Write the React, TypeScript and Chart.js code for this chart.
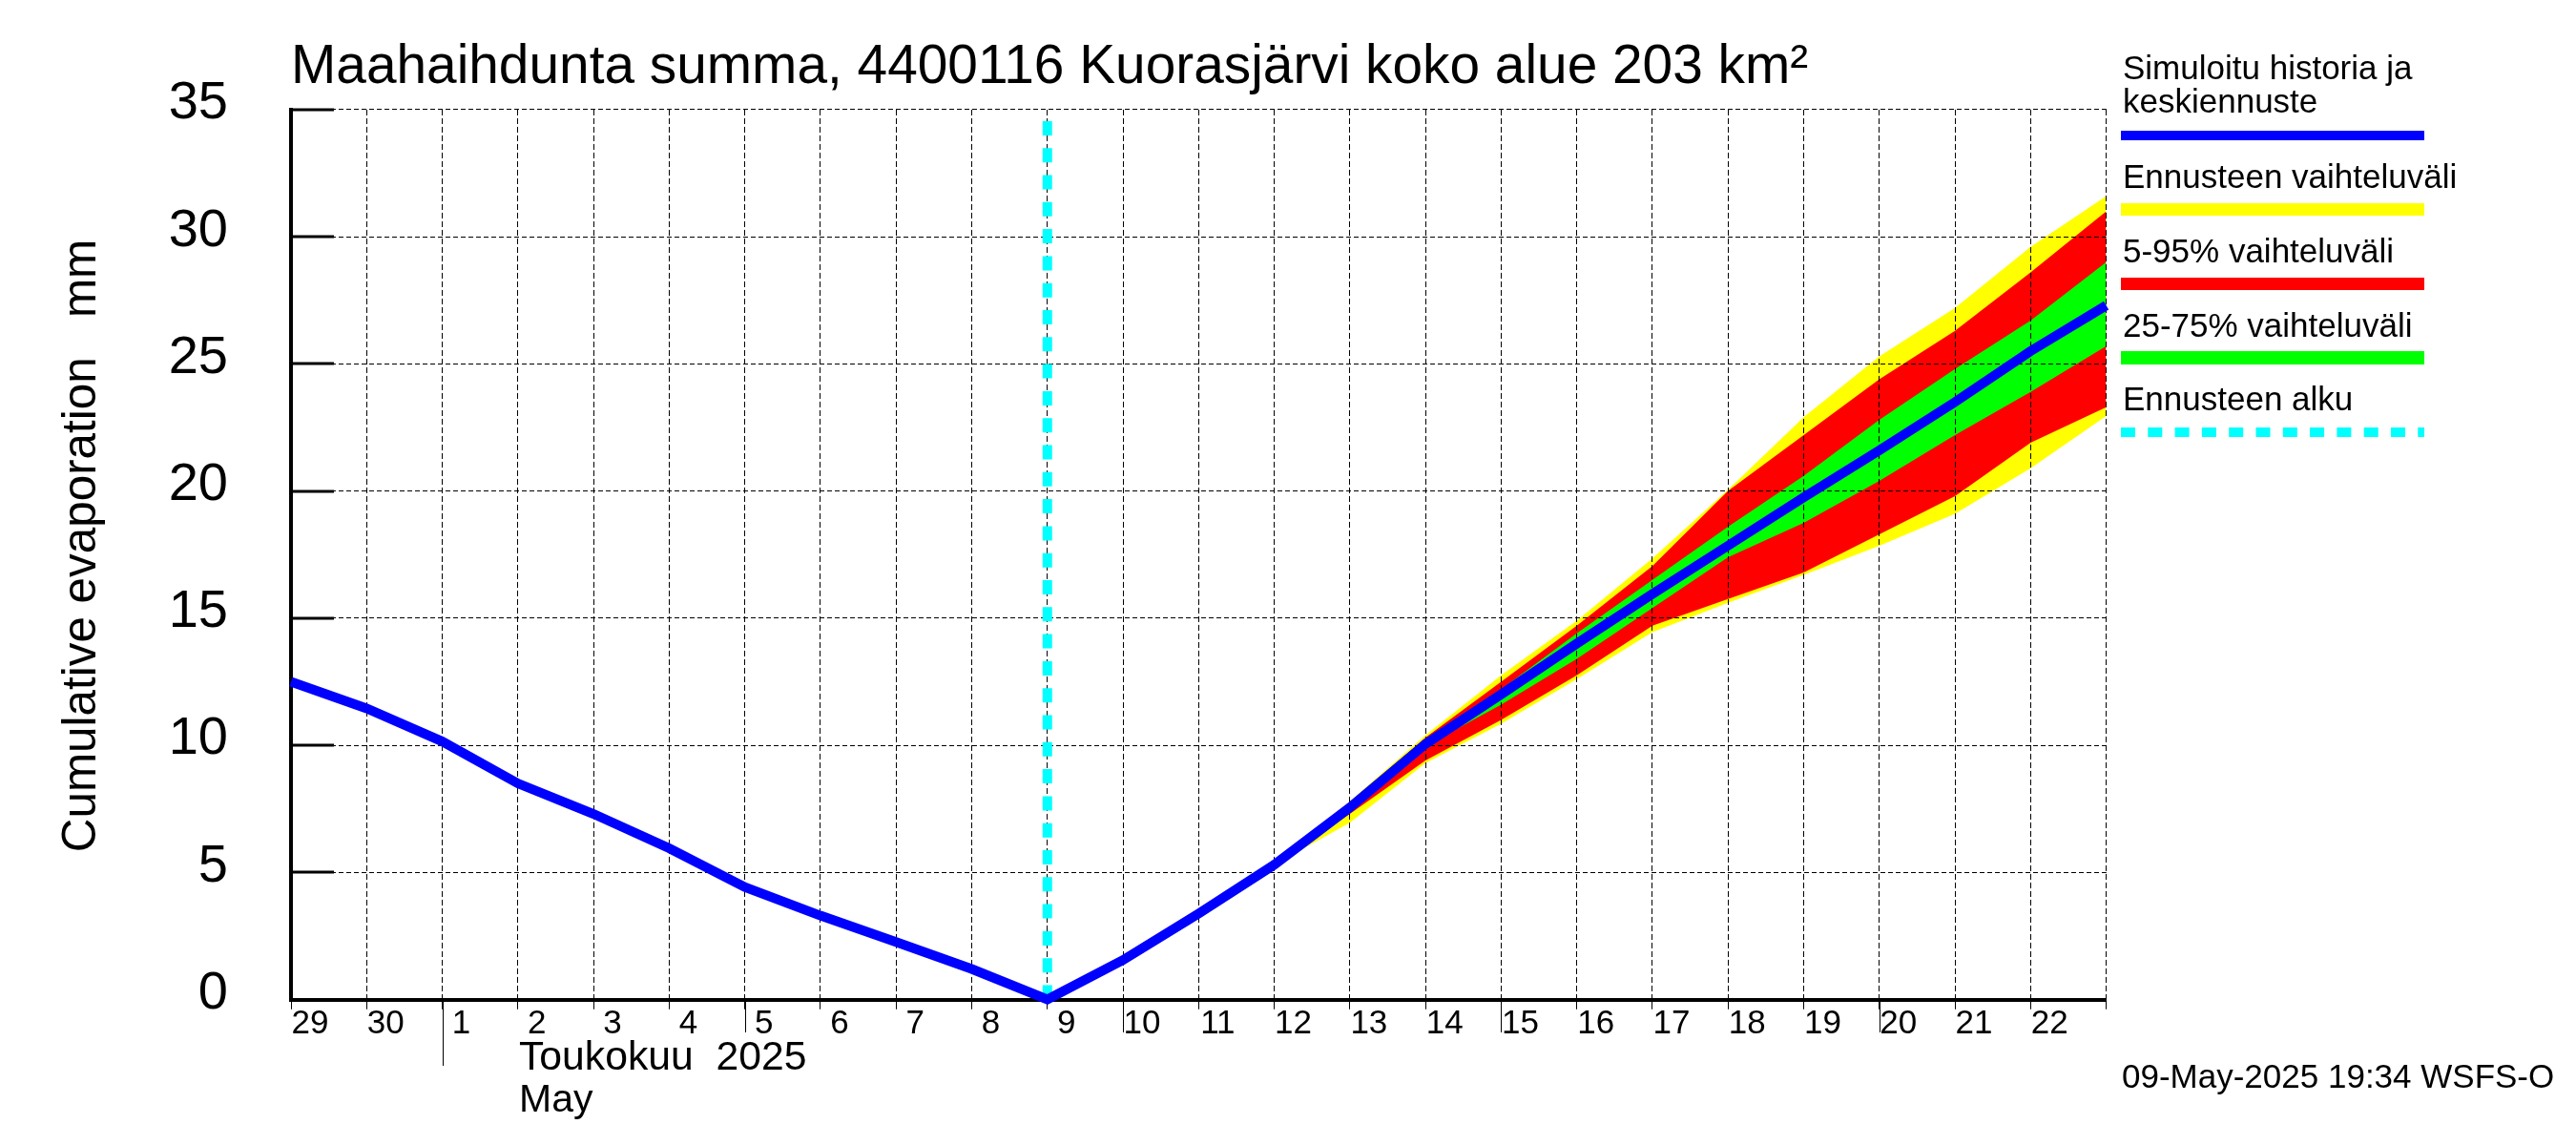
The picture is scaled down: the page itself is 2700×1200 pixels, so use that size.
import { useEffect, useRef } from 'react';
import { Chart, registerables } from 'chart.js';

Chart.register(...registerables);

const dayLabels = ['29', '30', '1', '2', '3', '4', '5', '6', '7', '8', '9', '10', '11', '12', '13', '14', '15', '16', '17', '18', '19', '20', '21', '22'];
const yTicks = [0, 5, 10, 15, 20, 25, 30, 35];

// cumulative evaporation, mm, one value per day from 29 Apr
const meanLine = [12.5, 11.45, 10.15, 8.5, 7.3, 5.95, 4.42, 3.3, 2.26, 1.2, 0, 1.55, 3.38, 5.3, 7.55, 10.05, 12.0, 14.0, 15.95, 17.85, 19.75, 21.6, 23.5, 25.5, 27.3];

// forecast bands start on 12 May
const bandStart = 13;
const yellowHi = [5.3, 7.8, 10.4, 12.75, 14.9, 17.35, 20.05, 22.9, 25.3, 27.2, 29.6, 31.6];
const redHi = [5.3, 7.7, 10.3, 12.5, 14.7, 17.05, 20.0, 22.2, 24.4, 26.3, 28.6, 31.0];
const greenHi = [5.3, 7.6, 10.1, 12.2, 14.4, 16.5, 18.6, 20.6, 22.8, 24.8, 26.7, 29.0];
const greenLo = [5.3, 7.5, 9.97, 11.6, 13.4, 15.4, 17.4, 18.75, 20.4, 22.2, 23.9, 25.7];
const redLo = [5.3, 7.3, 9.4, 11.0, 12.75, 14.7, 15.75, 16.8, 18.3, 19.8, 21.9, 23.3];
const yellowLo = [5.3, 6.95, 9.3, 10.85, 12.6, 14.45, 15.6, 16.7, 17.85, 19.1, 20.9, 22.95];

const forecastStartDay = 10;
const monthTickDay = 2;
const weekTickDays = [6, 11, 16, 21];

const FONT = '"Liberation Sans", Arial, sans-serif';
const BLUE = '#0000ff';
const YELLOW = '#ffff00';
const RED = '#ff0000';
const GREEN = '#00ff00';
const CYAN = '#00ffff';

const titleText = 'Maahaihdunta summa, 4400116 Kuorasjärvi koko alue 203 km²';
const yTitle = 'Cumulative evaporation   mm';
const monthLines = ['Toukokuu  2025', 'May'];
const stampText = '09-May-2025 19:34 WSFS-O';

const legendTexts = [
  { text: 'Simuloitu historia ja', y: 83 },
  { text: 'keskiennuste', y: 118 },
  { text: 'Ennusteen vaihteluväli', y: 197 },
  { text: '5-95% vaihteluväli', y: 275 },
  { text: '25-75% vaihteluväli', y: 353 },
  { text: 'Ennusteen alku', y: 430 },
];
const legendBars = [
  { color: BLUE, y: 142, width: 10, dash: [] as number[] },
  { color: YELLOW, y: 219.5, width: 13, dash: [] as number[] },
  { color: RED, y: 297.5, width: 13, dash: [] as number[] },
  { color: GREEN, y: 375, width: 14, dash: [] as number[] },
  { color: CYAN, y: 453, width: 10, dash: [15, 13.3] },
];

function band(values: number[]) {
  return values.map((y, i) => ({ x: bandStart + i, y }));
}

function bandDataset(values: number[], color: string, fillNext: boolean) {
  return {
    data: band(values),
    borderWidth: 0,
    pointRadius: 0,
    backgroundColor: color,
    fill: fillNext ? '+1' : false,
  };
}

// dashed grid shows on top of the bands but under the cyan and blue lines
const gridOverBands = {
  id: 'gridOverBands',
  beforeDatasetDraw(chart: any, args: any) {
    if (args.index !== 1) return;
    chart.scales.x.drawGrid(chart.chartArea);
    chart.scales.y.drawGrid(chart.chartArea);
  },
};

const axisExtras = {
  id: 'axisExtras',
  afterDraw(chart: any) {
    const { ctx, scales, chartArea } = chart;
    ctx.save();

    // heavy ticks inside the plot on the y axis
    ctx.strokeStyle = '#000';
    ctx.lineWidth = 3;
    yTicks.forEach((v) => {
      const y = Math.round(scales.y.getPixelForValue(v));
      ctx.beginPath();
      ctx.moveTo(chartArea.left, y);
      ctx.lineTo(chartArea.left + 45, y);
      ctx.stroke();
    });

    // longer ticks for month start and every fifth day
    ctx.lineWidth = 1;
    const longTick = (day: number, bottom: number) => {
      const x = Math.round(scales.x.getPixelForValue(day)) + 0.5;
      ctx.beginPath();
      ctx.moveTo(x, chartArea.bottom);
      ctx.lineTo(x, bottom);
      ctx.stroke();
    };
    longTick(monthTickDay, 1117);
    weekTickDays.forEach((d) => longTick(d, 1082));

    ctx.fillStyle = '#000';
    ctx.textAlign = 'left';
    ctx.textBaseline = 'alphabetic';

    ctx.font = `42.7px ${FONT}`;
    ctx.fillText(monthLines[0], 544, 1121);
    ctx.font = `41px ${FONT}`;
    ctx.fillText(monthLines[1], 544, 1165);

    ctx.font = `35px ${FONT}`;
    ctx.fillText(stampText, 2224, 1140);
    legendTexts.forEach((l) => ctx.fillText(l.text, 2225, l.y));

    legendBars.forEach((b) => {
      ctx.strokeStyle = b.color;
      ctx.lineWidth = b.width;
      ctx.setLineDash(b.dash);
      ctx.beginPath();
      ctx.moveTo(2223, b.y);
      ctx.lineTo(2541, b.y);
      ctx.stroke();
    });
    ctx.setLineDash([]);

    ctx.save();
    ctx.translate(100, 572);
    ctx.rotate(-Math.PI / 2);
    ctx.textAlign = 'center';
    ctx.font = `49.4px ${FONT}`;
    ctx.fillText(yTitle, 0, 0);
    ctx.restore();

    ctx.restore();
  },
};

export default function App() {
  const canvasRef = useRef<HTMLCanvasElement>(null);

  useEffect(() => {
    if (!canvasRef.current) return;
    document.body.style.margin = '0';

    const chart = new Chart(canvasRef.current, {
      type: 'line',
      data: {
        datasets: [
          {
            data: meanLine.map((y, x) => ({ x, y })),
            borderColor: BLUE,
            borderWidth: 10,
            pointRadius: 0,
            borderJoinStyle: 'miter',
            borderCapStyle: 'butt',
            clip: false,
            fill: false,
          },
          {
            data: [
              { x: forecastStartDay, y: 0 },
              { x: forecastStartDay, y: 35 },
            ],
            borderColor: CYAN,
            borderWidth: 10,
            borderDash: [15, 13.3],
            pointRadius: 0,
            fill: false,
          },
          bandDataset(greenHi, GREEN, true),
          bandDataset(greenLo, GREEN, false),
          bandDataset(redHi, RED, true),
          bandDataset(redLo, RED, false),
          bandDataset(yellowHi, YELLOW, true),
          bandDataset(yellowLo, YELLOW, false),
        ] as any,
      },
      options: {
        responsive: false,
        animation: false,
        devicePixelRatio: 1,
        layout: { padding: { left: 0, right: 492.4, top: 0, bottom: 0 } },
        plugins: {
          legend: { display: false },
          tooltip: { enabled: false },
          title: {
            display: true,
            text: titleText,
            align: 'start',
            fullSize: false,
            color: '#000',
            font: { family: FONT, size: 56.8, weight: 'normal', lineHeight: 1.2 },
            padding: { top: 37, bottom: 9.8 },
          },
        },
        scales: {
          x: {
            type: 'linear',
            min: 0,
            max: 24,
            afterFit(scale: any) {
              scale.height = 152.5;
            },
            afterBuildTicks(scale: any) {
              scale.ticks = dayLabels.map((_, i) => ({ value: i })).concat({ value: 24 });
            },
            grid: {
              color: '#000',
              lineWidth: 1,
              tickLength: 10,
              tickColor: '#000',
              tickWidth: 1,
            },
            border: { display: true, color: '#000', width: 4, dash: [6, 3] },
            ticks: {
              autoSkip: false,
              maxRotation: 0,
              color: '#000',
              font: { family: FONT, size: 35 },
              labelOffset: 20,
              padding: -5,
              callback: (_v: any, i: number) => dayLabels[i] ?? '',
            },
          },
          y: {
            type: 'linear',
            min: 0,
            max: 35,
            afterFit(scale: any) {
              scale.width = 305;
            },
            afterBuildTicks(scale: any) {
              scale.ticks = yTicks.map((value) => ({ value }));
            },
            grid: { color: '#000', lineWidth: 1, drawTicks: false },
            border: { display: true, color: '#000', width: 4, dash: [5, 3] },
            ticks: {
              color: '#000',
              font: { family: FONT, size: 56 },
              padding: 66,
              labelOffset: -6,
            },
          },
        },
      },
      plugins: [gridOverBands, axisExtras],
    } as any);

    return () => chart.destroy();
  }, []);

  return <canvas ref={canvasRef} width={2700} height={1200} style={{ display: 'block', width: 2700, height: 1200 }} />;
}
